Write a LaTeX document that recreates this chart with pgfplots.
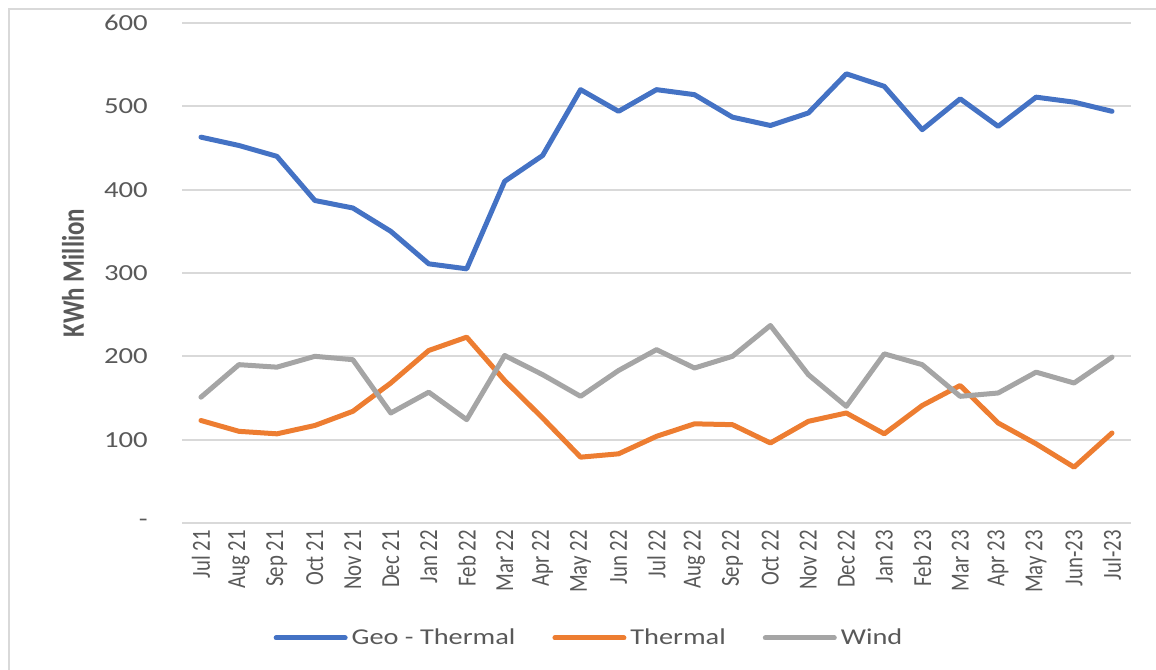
\documentclass[border=0pt]{standalone}
\usepackage{fontspec}
\setmainfont{Carlito}[FakeStretch=1.25]
\newfontfamily\rotfont{Carlito}[FakeStretch=0.8]
\usepackage{pgfplots}
\pgfplotsset{compat=1.18}
\definecolor{geoblue}{HTML}{4472C4}
\definecolor{thermorange}{HTML}{ED7D31}
\definecolor{windgray}{HTML}{A5A5A5}
\definecolor{gridc}{HTML}{D9D9D9}
\definecolor{txtgray}{HTML}{595959}
\begin{document}
\begin{tikzpicture}
\useasboundingbox (0,0) rectangle (867pt,502.5pt);
\draw[color=gridc, line width=1.5pt] (6.75pt,0pt) -- (6.75pt,495.75pt) -- (867pt,495.75pt);
\begin{axis}[
  at={(136.5pt,110.25pt)}, anchor=south west,
  width=711.75pt, height=375pt, scale only axis,
  xmin=-0.5, xmax=24.5, ymin=0, ymax=600,
  clip=false,
  axis line style={draw=none},
  tick style={draw=none},
  ymajorgrids, grid style={color=gridc, line width=1.5pt},
  ytick={0,100,200,300,400,500,600},
  yticklabels={-,100,200,300,400,500,600},
  yticklabel style={font=\fontsize{17.25}{18}\selectfont, text=txtgray, inner sep=0pt, anchor=east, xshift=-25.5pt},
  xtick={0,...,24},
  xticklabels={Jul 21,Aug 21,Sep 21,Oct 21,Nov 21,Dec 21,Jan 22,Feb 22,Mar 22,Apr 22,May 22,Jun 22,Jul 22,Aug 22,Sep 22,Oct 22,Nov 22,Dec 22,Jan 23,Feb 23,Mar 23,Apr 23,May 23,Jun-23,Jul-23},
  xticklabel style={font=\rotfont\fontsize{19.5}{20}\selectfont, text=txtgray, rotate=90, anchor=east, inner xsep=5.25pt, inner ysep=0pt},
  ylabel={KWh Million},
  ylabel style={font=\rotfont\bfseries\fontsize{23.4}{24}\selectfont, text=txtgray, at={(axis description cs:-0.1149,0.5)}, anchor=center, rotate=0},
  legend columns=3,
  legend style={draw=none, fill=none, at={(axis description cs:0.4278,-0.23)}, anchor=center,
    font=\fontsize{17}{18}\selectfont, text=txtgray,
    nodes={inner sep=0pt},
    /tikz/every odd column/.append style={column sep=3pt},
    /tikz/every even column/.append style={column sep=27.75pt}},
  legend image code/.code={\draw[#1, line cap=round] (0pt,0pt) -- (51.75pt,0pt);},
  every axis plot/.append style={line width=3.75pt, line join=round, line cap=round, mark=none},
]
\addplot[color=geoblue] coordinates {
(0,463)(1,453)(2,440)(3,387)(4,378)(5,350)(6,311)(7,305)(8,410)(9,441)(10,520)(11,494)(12,520)(13,514)(14,487)(15,477)(16,492)(17,539)(18,524)(19,472)(20,509)(21,476)(22,511)(23,505)(24,494)};
\addlegendentry{Geo - Thermal}
\addplot[color=thermorange] coordinates {
(0,123)(1,110)(2,107)(3,117)(4,134)(5,168)(6,207)(7,223)(8,171)(9,126)(10,79)(11,83)(12,104)(13,119)(14,118)(15,96)(16,122)(17,132)(18,107)(19,141)(20,165)(21,120)(22,95)(23,67)(24,108)};
\addlegendentry{Thermal}
\addplot[color=windgray] coordinates {
(0,151)(1,190)(2,187)(3,200)(4,196)(5,132)(6,157)(7,124)(8,201)(9,178)(10,152)(11,183)(12,208)(13,186)(14,200)(15,237)(16,178)(17,140)(18,203)(19,190)(20,152)(21,156)(22,181)(23,168)(24,199)};
\addlegendentry{Wind}
\end{axis}
\end{tikzpicture}
\end{document}
